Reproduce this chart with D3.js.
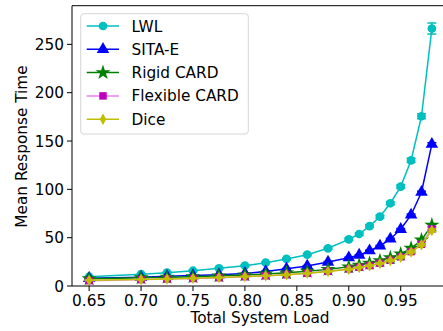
<!DOCTYPE html>
<html>
<head>
<meta charset="utf-8">
<script src="https://cdn.jsdelivr.net/npm/d3@7"></script>
<style>
  body { margin: 0; background: #fff; }
  text { font-family: "DejaVu Sans", sans-serif; }
</style>
</head>
<body>
<div id="chart"></div>
<script>
var width = 443
var height = 331
var fontSize = 15.3

// data
var loads = [0.65, 0.70, 0.725, 0.75, 0.775, 0.80, 0.82, 0.84, 0.86, 0.88, 0.90, 0.91, 0.92, 0.93, 0.94, 0.95, 0.96, 0.97, 0.98]
var lwl      = [9.6, 12.2, 13.8, 15.8, 18.3, 21, 24.1, 28, 32.4, 39, 48.3, 53.8, 62, 71.7, 85.6, 102.8, 130, 175.6, 266.4]
var lwlErr   = [0.6, 0.6, 0.6, 0.7, 0.7, 0.8, 0.8, 0.9, 1, 1, 1.2, 1.2, 1.3, 1.4, 1.5, 1.8, 2.2, 2.5, 5.7]
var sitaE    = [8, 9, 10, 10.8, 11.7, 13, 15, 17.8, 20.8, 24.8, 29.3, 32, 36.5, 41.4, 48.7, 58.7, 73.5, 97, 146.7]
var rigid    = [7.5, 8.5, 9, 9.6, 10.5, 11.5, 12.5, 13.6, 15.2, 17.2, 19.8, 21.6, 23.6, 26.2, 29.2, 33.2, 39, 47.6, 63]
var flexible = [5.5, 6.6, 7.2, 7.8, 8.6, 9.6, 10.6, 11.6, 13.2, 15.2, 17.6, 19.4, 21.2, 23.6, 26.6, 30.2, 35.6, 43.2, 59]
var dice     = [6, 6.8, 7.3, 7.9, 8.7, 9.7, 10.6, 11.6, 13.1, 15, 17.4, 19.2, 21, 23.4, 26.3, 29.8, 35.2, 42.6, 57.5]
var smallErr = [0.3, 0.3, 0.3, 0.3, 0.3, 0.3, 0.4, 0.4, 0.4, 0.5, 0.5, 0.5, 0.6, 0.6, 0.7, 0.8, 0.9, 1.1, 1.5]
var xTicks = [0.65, 0.70, 0.75, 0.80, 0.85, 0.90, 0.95]
var yTicks = [0, 50, 100, 150, 200, 250]

var series = [
  {name: 'LWL', values: lwl, err: lwlErr, line: '#00bfbf', fill: '#00bfbf', shape: d3.symbolCircle, size: 60},
  {name: 'SITA-E', values: sitaE, err: smallErr, line: '#0000ff', fill: '#0000ff', shape: d3.symbolTriangle, size: 68},
  {name: 'Rigid CARD', values: rigid, err: smallErr, line: '#008000', fill: '#008000', shape: d3.symbolStar, size: 72},
  {name: 'Flexible CARD', values: flexible, err: smallErr, line: '#ee82ee', fill: '#bf00bf', shape: d3.symbolSquare, size: 56},
  {name: 'Dice', values: dice, err: smallErr, line: '#bfbf00', fill: '#bfbf00', shape: d3.symbolDiamond, size: 38}
]

var x = d3.scaleLinear().domain([0.6335, 0.9965]).range([72, 449])
var y = d3.scaleLinear().domain([0, 290]).range([286, 5.7])

var svg = d3.select('#chart').append('svg')
  .attr('width', width)
  .attr('height', height)

var plot = svg.append('g')

series.forEach(function(s) {
  var g = plot.append('g')
  var line = d3.line()
    .x(function(d, i) { return x(loads[i]) })
    .y(function(d) { return y(d) })
  g.append('path')
    .attr('d', line(s.values))
    .attr('fill', 'none')
    .attr('stroke', s.line)
    .attr('stroke-width', 1.5)

  // error bars with caps
  s.values.forEach(function(v, i) {
    var cx = x(loads[i])
    var top = y(v + s.err[i]), bot = y(v - s.err[i])
    g.append('line').attr('x1', cx).attr('x2', cx).attr('y1', top).attr('y2', bot)
      .attr('stroke', s.line).attr('stroke-width', 1.5)
    ;[top, bot].forEach(function(cy) {
      g.append('line').attr('x1', cx - 4.5).attr('x2', cx + 4.5).attr('y1', cy).attr('y2', cy)
        .attr('stroke', s.line).attr('stroke-width', 1.5)
    })
  })

  g.selectAll('.marker').data(s.values).enter().append('path')
    .attr('class', 'marker')
    .attr('d', d3.symbol().type(s.shape).size(s.size))
    .attr('transform', function(d, i) { return 'translate(' + x(loads[i]) + ',' + y(d) + ')' })
    .attr('fill', s.fill)
})

// spines
svg.append('line').attr('x1', 72).attr('x2', 72).attr('y1', 5.7).attr('y2', 286).attr('stroke', '#000').attr('stroke-width', 1)
svg.append('line').attr('x1', 72).attr('x2', 450).attr('y1', 286).attr('y2', 286).attr('stroke', '#000').attr('stroke-width', 1)
svg.append('line').attr('x1', 72).attr('x2', 450).attr('y1', 5.7).attr('y2', 5.7).attr('stroke', '#000').attr('stroke-width', 1)

// x ticks
xTicks.forEach(function(t) {
  svg.append('line').attr('x1', x(t)).attr('x2', x(t)).attr('y1', 286).attr('y2', 291)
    .attr('stroke', '#000').attr('stroke-width', 1)
  svg.append('text').attr('x', x(t)).attr('y', 305.5)
    .attr('text-anchor', 'middle').attr('font-size', fontSize).text(d3.format('.2f')(t))
})
// y ticks
yTicks.forEach(function(t) {
  svg.append('line').attr('x1', 67).attr('x2', 72).attr('y1', y(t)).attr('y2', y(t))
    .attr('stroke', '#000').attr('stroke-width', 1)
  svg.append('text').attr('x', 64).attr('y', y(t)).attr('dy', '0.36em')
    .attr('text-anchor', 'end').attr('font-size', fontSize).text(t)
})

svg.append('text').attr('x', 260).attr('y', 323)
  .attr('text-anchor', 'middle').attr('font-size', fontSize).text('Total System Load')
svg.append('text').attr('transform', 'translate(26.5,146.5) rotate(-90)')
  .attr('text-anchor', 'middle').attr('font-size', fontSize).text('Mean Response Time')

// legend
var legend = svg.append('g')
legend.append('rect').attr('x', 80.7).attr('y', 13.7).attr('width', 167.6).attr('height', 120.3)
  .attr('rx', 3).attr('fill', 'rgba(255,255,255,0.8)').attr('stroke', '#d6d6d6').attr('stroke-width', 1)
series.forEach(function(s, i) {
  var ly = 26 + i * 23.3
  legend.append('line').attr('x1', 86.7).attr('x2', 119).attr('y1', ly).attr('y2', ly)
    .attr('stroke', s.line).attr('stroke-width', 1.5)
  legend.append('path').attr('d', d3.symbol().type(s.shape).size(s.size))
    .attr('transform', 'translate(103,' + ly + ')').attr('fill', s.fill)
  legend.append('text').attr('x', 131.5).attr('y', ly).attr('dy', '0.36em')
    .attr('font-size', fontSize).text(s.name)
})
</script>
</body>
</html>
